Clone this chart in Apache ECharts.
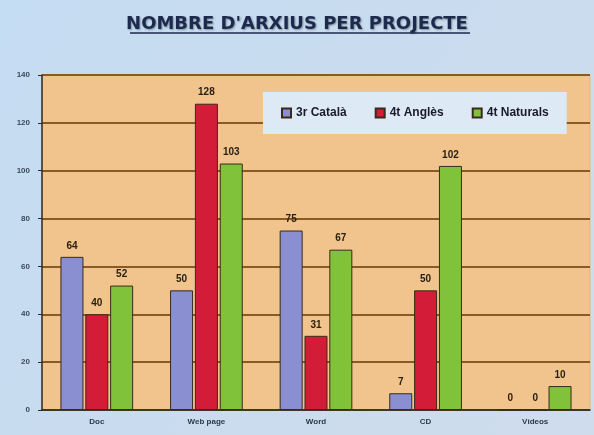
<!DOCTYPE html>
<html>
<head>
<meta charset="utf-8">
<script src="https://cdn.jsdelivr.net/npm/echarts@6/dist/echarts.min.js"></script>
<style>
  html, body { margin: 0; padding: 0; }
  #chart { width: 594px; height: 435px; }
</style>
</head>
<body>
<div id="chart"></div>
<script>
const categories = ['Doc', 'Web page', 'Word', 'CD', 'Vídeos'];
const seriesNames = ['3r Català', '4t Anglès', '4t Naturals'];
const catala = [64, 50, 75, 7, 0];
const angles = [40, 128, 31, 50, 0];
const naturals = [52, 103, 67, 102, 10];
const colors = ['#8a8fd2', '#d21c38', '#80c23a'];

const chart = echarts.init(document.getElementById('chart'));

const makeSeries = (name, data, color) => ({
    name: name,
    type: 'bar',
    data: data,
    barWidth: 23,
    barGap: '8%',
    itemStyle: { color: color, borderColor: '#3a2a1a', borderWidth: 1 },
    label: {
        show: true,
        position: 'top',
        distance: 6,
        fontSize: 10,
        fontWeight: 'bold',
        color: '#2a2010'
    }
});

chart.setOption({
    backgroundColor: {
        type: 'linear', x: 0, y: 0, x2: 1, y2: 1,
        colorStops: [
            { offset: 0, color: '#c4dcf2' },
            { offset: 1, color: '#cfdcec' }
        ]
    },
    color: colors,
    title: {
        text: "NOMBRE D'ARXIUS PER PROJECTE",
        left: 'center',
        top: 10,
        textStyle: {
            fontSize: 18,
            fontWeight: 'bold',
            color: '#1c2a4e',
            fontFamily: 'DejaVu Sans',
            textShadowColor: 'rgba(0,0,0,0.35)',
            textShadowBlur: 2,
            textShadowOffsetX: 1,
            textShadowOffsetY: 1
        }
    },
    graphic: [{
        type: 'line',
        shape: { x1: 130, y1: 33, x2: 470, y2: 33 },
        style: { stroke: '#1c2a4e', lineWidth: 1.5 }
    }],
    legend: {
        data: seriesNames,
        left: 263,
        top: 92,
        padding: [15, 18],
        itemGap: 28,
        icon: 'rect',
        itemWidth: 9,
        itemHeight: 9,
        backgroundColor: '#dde9f5',
        textStyle: { fontSize: 12, fontWeight: 'bold', color: '#1a1a2a' }
    },
    grid: {
        left: 42,
        right: 4,
        top: 75,
        bottom: 25,
        show: true,
        backgroundColor: '#f0c48c',
        borderColor: '#e6b87e'
    },
    xAxis: {
        type: 'category',
        data: categories,
        axisLine: { lineStyle: { color: '#2a2a2a', width: 1.5 } },
        axisTick: { show: false },
        axisLabel: { fontSize: 8, fontWeight: 'bold', color: '#2a3a4a', margin: 8 }
    },
    yAxis: {
        type: 'value',
        min: 0,
        max: 140,
        interval: 20,
        axisLine: { show: true, lineStyle: { color: '#2a2a2a', width: 1.5 } },
        axisTick: { show: true, length: 4, lineStyle: { color: '#2a2a2a' } },
        axisLabel: { fontSize: 8, fontWeight: 'bold', color: '#3a4a5a', margin: 12 },
        splitLine: { lineStyle: { color: '#8a5a24', width: 2 } }
    },
    series: [
        makeSeries(seriesNames[0], catala, colors[0]),
        makeSeries(seriesNames[1], angles, colors[1]),
        makeSeries(seriesNames[2], naturals, colors[2])
    ]
});
</script>
</body>
</html>
